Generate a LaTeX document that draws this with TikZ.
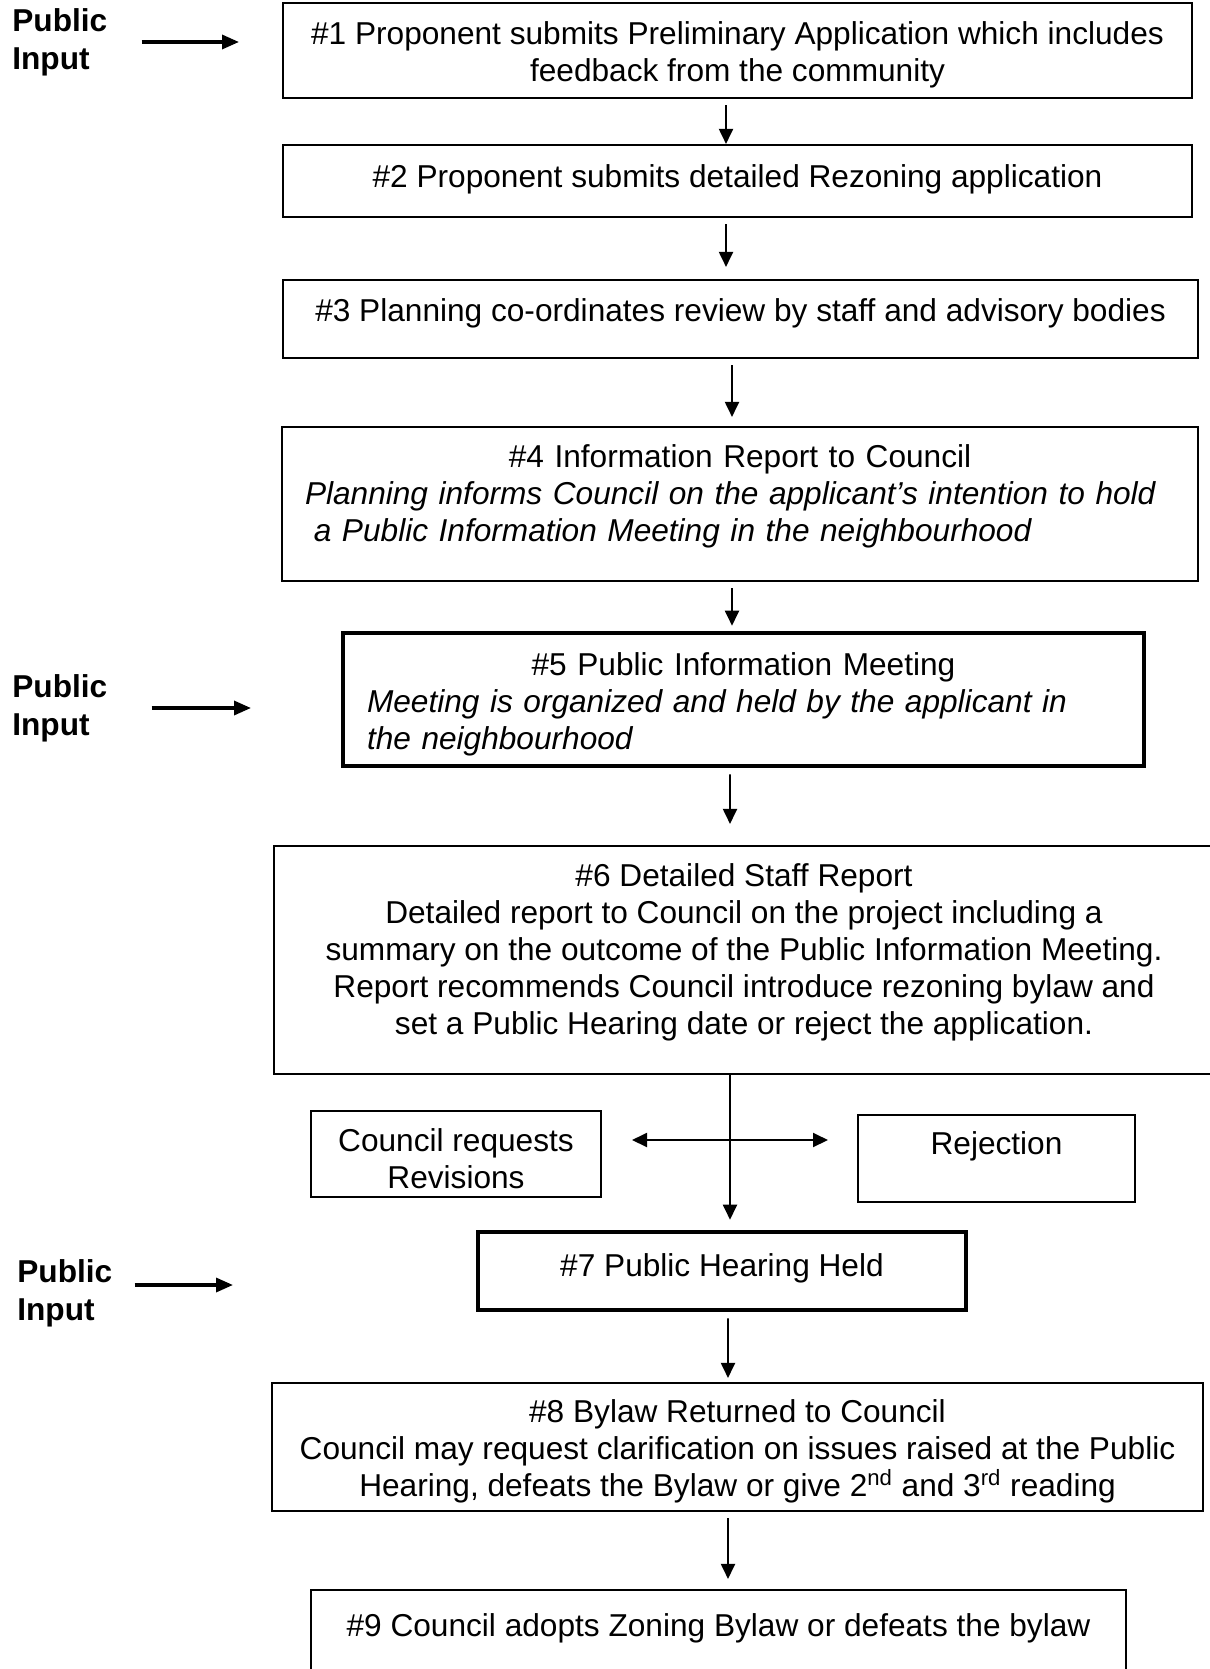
\documentclass[tikz,border=0pt]{standalone}
\usepackage{fontspec}
\setmainfont{Liberation Sans}
\usepackage{tikz}
\usetikzlibrary{arrows.meta}
\newcommand{\lowpad}[1]{\rule[-#1]{0pt}{#1}}
\newcommand{\toppad}{\rule{0pt}{18.1pt}}
\newcommand{\midline}[1]{\makebox[\linewidth]{#1}}
\tikzset{stepbox/.style={draw,line width=1.2pt,align=center,inner sep=0pt,font=\fontsize{18}{21}\selectfont},
thickbox/.style={stepbox,line width=2.6pt},
pubinput/.style={align=left,anchor=west,inner sep=0pt,font=\fontsize{18}{21.6}\selectfont\bfseries},
flow/.style={->,line width=1.1pt,shorten <=0.12cm},
inarrow/.style={-{Triangle[length=0.34cm,width=0.28cm]},line width=1.9pt}}

\begin{document}
\begin{tikzpicture}[>={Triangle[length=0.3cm,width=0.28cm]}]
\useasboundingbox (0,0) rectangle (24.18,-33.38);
% steps
\node[stepbox,minimum width=18.18cm,minimum height=1.9cm] (s1) at (14.75,-1.01)
  {\toppad\#1 Proponent submits Preliminary Application which includes\\feedback from the community};
\node[stepbox,minimum width=18.18cm,minimum height=1.44cm] (s2) at (14.75,-3.62)
  {\#2 Proponent submits detailed Rezoning application\lowpad{0.21cm}};
\node[stepbox,minimum width=18.3cm,minimum height=1.56cm] (s3) at (14.81,-6.38)
  {\#3 Planning co-ordinates review by staff and advisory bodies\lowpad{0.37cm}};
\node[stepbox,align=left,text width=17.4cm,minimum width=18.32cm,minimum height=3.08cm] (s4) at (14.8,-10.08)
  {\midline{\#4 Information Report to Council}\\
   \textit{Planning informs Council on the applicant’s intention to hold}\\
   \hspace*{0.28em}\textit{a Public Information Meeting in the neighbourhood}\lowpad{0.45cm}};
\node[thickbox,align=left,text width=15.06cm,minimum width=16.02cm,minimum height=2.66cm] (s5) at (14.87,-13.99)
  {\toppad\midline{\#5 Public Information Meeting}\\
   \textit{Meeting is organized and held by the applicant in}\\
   \textit{the neighbourhood}};
\node[stepbox,minimum width=18.8cm,minimum height=4.56cm] (s6) at (14.88,-19.2)
  {\#6 Detailed Staff Report\\
   Detailed report to Council on the project including a\\
   summary on the outcome of the Public Information Meeting.\\
   Report recommends Council introduce rezoning bylaw and\\
   set a Public Hearing date or reject the application.\lowpad{0.45cm}};
\node[stepbox,minimum width=5.8cm,minimum height=1.72cm] (rev) at (9.12,-23.08)
  {\toppad Council requests\\Revisions};
\node[stepbox,minimum width=5.54cm,minimum height=1.74cm] (rej) at (19.93,-23.17)
  {Rejection\lowpad{0.61cm}};
\node[thickbox,minimum width=9.76cm,minimum height=1.56cm] (s7) at (14.44,-25.42)
  {\#7 Public Hearing Held\lowpad{0.25cm}};
\node[stepbox,minimum width=18.62cm,minimum height=2.56cm] (s8) at (14.75,-28.94)
  {\toppad\#8 Bylaw Returned to Council\\
   Council may request clarification on issues raised at the Public\\
   Hearing, defeats the Bylaw or give 2\textsuperscript{nd} and 3\textsuperscript{rd} reading};
\node[stepbox,minimum width=16.3cm,minimum height=1.8cm] (s9) at (14.37,-32.7)
  {\#9 Council adopts Zoning Bylaw or defeats the bylaw\lowpad{0.4cm}};
% public input
\node[pubinput] (p1) at (0.24,-0.84) {Public\\Input};
\node[pubinput] (p2) at (0.24,-14.16) {Public\\Input};
\node[pubinput] (p3) at (0.34,-25.86) {Public\\Input};
\coordinate (tip1) at (4.78,-0.84);
\coordinate (tip2) at (5.02,-14.16);
\coordinate (tip3) at (4.66,-25.7);
\draw[inarrow] ([xshift=0.68cm]p1.east) -- (tip1);
\draw[inarrow] ([xshift=0.88cm]p2.east) -- (tip2);
\draw[inarrow] ([xshift=0.44cm]p3.east |- tip3) -- (tip3);
% flow
\draw[flow] ([xshift=-0.23cm]s1.south) -- ([xshift=-0.23cm]s2.north);
\draw[flow,shorten >=0.24cm] ([xshift=-0.23cm]s2.south) -- ([xshift=-0.29cm]s3.north);
\draw[flow,shorten >=0.18cm] ([xshift=-0.17cm]s3.south) -- ([xshift=-0.16cm]s4.north);
\draw[flow,shorten >=0.1cm] ([xshift=-0.16cm]s4.south) -- ([xshift=-0.23cm]s5.north);
\draw[flow,shorten >=0.42cm] ([xshift=-0.27cm]s5.south) -- ([xshift=-0.28cm]s6.north);
\draw[flow,shorten <=0pt,shorten >=0.2cm] ([xshift=-0.28cm]s6.south) -- ([xshift=0.16cm]s7.north);
\draw[flow,shorten >=0.08cm] ([xshift=0.12cm]s7.south) -- ([xshift=-0.19cm]s8.north);
\draw[flow,shorten >=0.2cm] ([xshift=-0.19cm]s8.south) -- ([xshift=0.19cm]s9.north);
% revisions / rejection
\coordinate (revtip) at (12.64,-22.8);
\coordinate (rejtip) at (16.56,-22.8);
\draw[flow,<->,shorten <=0pt] (revtip) -- (rejtip);
\end{tikzpicture}
\end{document}
